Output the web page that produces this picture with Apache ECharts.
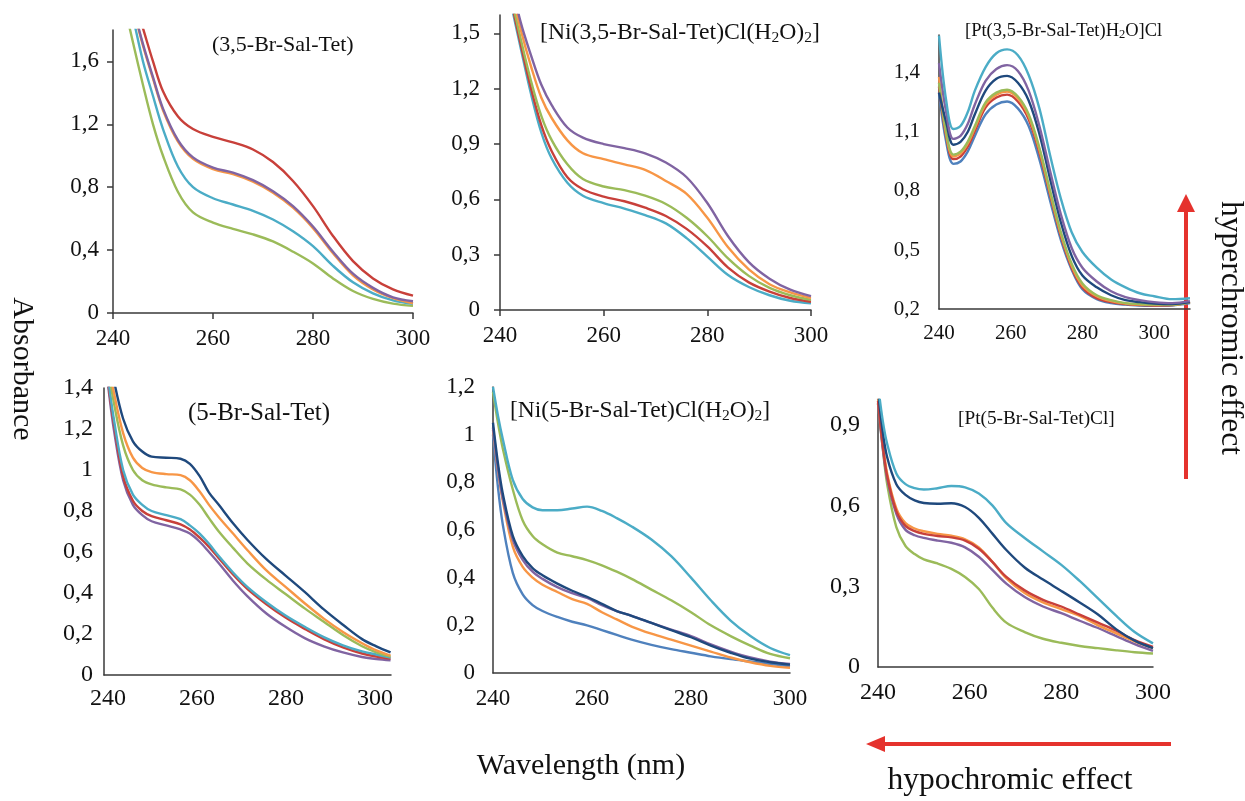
<!DOCTYPE html>
<html><head><meta charset="utf-8">
<script src="https://cdn.jsdelivr.net/npm/echarts@6/dist/echarts.min.js"></script>
<style>html,body{margin:0;padding:0;background:#fff}#c{width:1245px;height:801px}</style>
</head><body><div id="c"></div>
<script>
// ---------- data ----------
const xTickLabels = [240, 260, 280, 300];

// Panel 1: (3,5-Br-Sal-Tet)
const x1 = [240,242,244,246,248,250,253,256,260,264,268,272,276,280,284,288,292,296,300];
const p1Red    = [2.5,2.25,2.02,1.81,1.60,1.41,1.25,1.17,1.12,1.085,1.04,0.96,0.84,0.68,0.49,0.33,0.22,0.15,0.11];
const p1Orange = [2.44,2.19,1.94,1.70,1.49,1.29,1.09,0.98,0.915,0.883,0.835,0.765,0.67,0.54,0.38,0.24,0.15,0.095,0.062];
const p1Purple = [2.45,2.2,1.95,1.71,1.50,1.30,1.10,0.99,0.925,0.893,0.845,0.775,0.68,0.55,0.39,0.25,0.16,0.10,0.075];
const p1Cyan   = [2.4,2.15,1.88,1.60,1.38,1.17,0.93,0.80,0.73,0.69,0.65,0.595,0.52,0.425,0.30,0.195,0.125,0.08,0.058];
const p1Olive  = [2.3,2.0,1.72,1.45,1.20,1.0,0.77,0.64,0.575,0.535,0.50,0.455,0.39,0.315,0.22,0.14,0.09,0.06,0.045];
const p1YTicks = [0, 0.4, 0.8, 1.2, 1.6];

// Panel 2: [Ni(3,5-Br-Sal-Tet)Cl(H2O)2]
const x2 = [240,242,244,246,248,250,253,256,260,264,268,272,276,280,284,288,292,296,300];
const p2Purple = [2.1,1.8,1.56,1.38,1.22,1.11,0.99,0.935,0.90,0.878,0.85,0.80,0.72,0.58,0.40,0.26,0.17,0.11,0.075];
const p2Orange = [2.05,1.76,1.52,1.32,1.15,1.04,0.92,0.85,0.818,0.79,0.76,0.70,0.63,0.50,0.34,0.22,0.14,0.095,0.065];
const p2Olive  = [2.0,1.72,1.47,1.24,1.05,0.92,0.79,0.71,0.67,0.65,0.62,0.575,0.50,0.40,0.28,0.185,0.12,0.08,0.055];
const p2Red    = [1.98,1.70,1.44,1.20,1.0,0.86,0.72,0.655,0.615,0.59,0.555,0.51,0.44,0.345,0.23,0.15,0.10,0.065,0.045];
const p2Cyan   = [1.96,1.68,1.42,1.17,0.96,0.82,0.69,0.62,0.58,0.55,0.515,0.47,0.39,0.29,0.19,0.125,0.08,0.05,0.036];
const p2YTicks = [0, 0.3, 0.6, 0.9, 1.2, 1.5];

// Panel 3: [Pt(3,5-Br-Sal-Tet)H2O]Cl
const x3 = [240,242,244,246,248,250,253,256,259,262,265,268,271,274,277,280,284,288,292,296,300,305,310];
const p3Cyan   = [1.59,1.26,1.115,1.13,1.20,1.31,1.43,1.50,1.52,1.49,1.39,1.22,0.98,0.76,0.59,0.49,0.41,0.35,0.31,0.28,0.265,0.25,0.255];
const p3Purple = [1.45,1.20,1.065,1.08,1.14,1.24,1.36,1.42,1.44,1.41,1.31,1.13,0.90,0.68,0.51,0.41,0.34,0.29,0.26,0.245,0.235,0.23,0.24];
const p3Navy   = [1.30,1.15,1.035,1.05,1.10,1.19,1.31,1.37,1.385,1.35,1.26,1.09,0.86,0.64,0.47,0.37,0.31,0.27,0.245,0.235,0.228,0.225,0.235];
const p3Olive  = [1.35,1.10,0.985,1.0,1.05,1.13,1.25,1.30,1.315,1.28,1.19,1.02,0.80,0.59,0.43,0.33,0.27,0.245,0.23,0.225,0.222,0.222,0.235];
const p3Orange = [1.38,1.09,0.975,0.99,1.04,1.12,1.24,1.29,1.305,1.27,1.18,1.01,0.79,0.58,0.42,0.32,0.265,0.24,0.228,0.222,0.22,0.22,0.235];
const p3Red    = [1.33,1.08,0.962,0.975,1.025,1.105,1.225,1.275,1.29,1.255,1.165,0.995,0.78,0.57,0.41,0.31,0.255,0.235,0.225,0.22,0.218,0.22,0.235];
const p3Blue   = [1.30,1.05,0.938,0.95,1.0,1.08,1.19,1.24,1.255,1.22,1.13,0.96,0.75,0.55,0.40,0.30,0.25,0.23,0.222,0.218,0.216,0.218,0.23];
const p3YTicks = [0.2, 0.5, 0.8, 1.1, 1.4];

// Panel 4: (5-Br-Sal-Tet)
const x4 = [239.2,240.2,241.3,243.4,245.6,247.7,249.8,253.1,256.3,258.4,260.6,262.7,264.9,268.1,271.3,275.6,279.9,284.2,288.5,292.8,297.1,300.3,303.5];
const p4Navy   = [1.75,1.58,1.44,1.25,1.14,1.09,1.065,1.06,1.055,1.03,0.97,0.89,0.83,0.74,0.66,0.565,0.485,0.405,0.32,0.245,0.175,0.14,0.11];
const p4Orange = [1.7,1.52,1.38,1.18,1.06,1.01,0.99,0.98,0.975,0.95,0.895,0.83,0.77,0.69,0.61,0.51,0.43,0.35,0.275,0.21,0.155,0.12,0.095];
const p4Olive  = [1.65,1.48,1.33,1.12,1.0,0.95,0.93,0.915,0.905,0.88,0.83,0.765,0.70,0.62,0.545,0.465,0.395,0.325,0.26,0.195,0.14,0.11,0.09];
const p4Cyan   = [1.62,1.42,1.25,1.0,0.88,0.83,0.80,0.78,0.76,0.73,0.69,0.64,0.58,0.50,0.43,0.355,0.29,0.235,0.185,0.145,0.115,0.1,0.085];
const p4Red    = [1.6,1.40,1.23,0.97,0.85,0.80,0.775,0.755,0.735,0.71,0.67,0.625,0.57,0.49,0.42,0.345,0.28,0.225,0.175,0.135,0.105,0.09,0.08];
const p4Purple = [1.58,1.38,1.2,0.95,0.83,0.78,0.75,0.73,0.71,0.69,0.65,0.60,0.545,0.46,0.385,0.30,0.235,0.18,0.14,0.11,0.088,0.078,0.072];
const p4YTicks = [0, 0.2, 0.4, 0.6, 0.8, 1, 1.2, 1.4];

// Panel 5: [Ni(5-Br-Sal-Tet)Cl(H2O)2]
const x5 = [240,241,242,244,246,248,250,253,256,259,262,265,268,272,276,280,284,288,292,296,300];
const p5Cyan   = [1.2,1.08,0.98,0.81,0.73,0.695,0.683,0.683,0.69,0.698,0.68,0.65,0.615,0.56,0.49,0.40,0.305,0.22,0.155,0.105,0.075];
const p5Olive  = [1.18,1.05,0.94,0.77,0.64,0.575,0.54,0.505,0.49,0.474,0.452,0.425,0.395,0.35,0.305,0.255,0.20,0.155,0.115,0.08,0.062];
const p5Purple = [1.03,0.86,0.73,0.56,0.475,0.425,0.395,0.36,0.335,0.315,0.285,0.26,0.24,0.21,0.182,0.155,0.12,0.09,0.065,0.048,0.038];
const p5Navy   = [1.05,0.88,0.75,0.575,0.49,0.44,0.41,0.375,0.345,0.32,0.29,0.26,0.24,0.21,0.18,0.15,0.115,0.085,0.06,0.045,0.035];
const p5Orange = [1.02,0.85,0.72,0.53,0.445,0.40,0.37,0.34,0.31,0.29,0.255,0.225,0.195,0.165,0.14,0.115,0.09,0.065,0.045,0.03,0.022];
const p5Blue   = [1.0,0.78,0.62,0.42,0.33,0.285,0.26,0.235,0.215,0.20,0.18,0.16,0.14,0.118,0.10,0.085,0.07,0.058,0.048,0.038,0.028];
const p5YTicks = [0, 0.2, 0.4, 0.6, 0.8, 1, 1.2];

// Panel 6: [Pt(5-Br-Sal-Tet)Cl]
const x6 = [240,241,242,244,246,248,250,253,256,259,262,265,268,272,276,280,284,288,292,296,300];
const p6Cyan   = [1.05,0.92,0.83,0.72,0.68,0.665,0.66,0.665,0.673,0.668,0.645,0.60,0.535,0.48,0.43,0.38,0.32,0.255,0.19,0.13,0.088];
const p6Navy   = [1.03,0.88,0.78,0.68,0.64,0.62,0.61,0.607,0.609,0.595,0.555,0.495,0.435,0.37,0.325,0.283,0.24,0.195,0.14,0.098,0.07];
const p6Orange = [1.0,0.84,0.72,0.59,0.535,0.515,0.505,0.495,0.488,0.475,0.445,0.39,0.33,0.275,0.24,0.215,0.19,0.155,0.125,0.095,0.07];
const p6Purple = [0.98,0.82,0.70,0.57,0.51,0.49,0.48,0.47,0.462,0.445,0.41,0.36,0.31,0.26,0.225,0.20,0.172,0.145,0.115,0.085,0.06];
const p6Red    = [0.99,0.83,0.71,0.58,0.525,0.505,0.495,0.487,0.482,0.47,0.44,0.39,0.335,0.285,0.25,0.225,0.195,0.165,0.135,0.10,0.075];
const p6Olive  = [0.98,0.82,0.68,0.52,0.45,0.42,0.40,0.385,0.365,0.335,0.29,0.22,0.165,0.13,0.105,0.09,0.078,0.07,0.062,0.055,0.05];
const p6YTicks = [0, 0.3, 0.6, 0.9];

// ---------- styling ----------
const C = {red:'#c8403a', orange:'#f79646', purple:'#8064a2', cyan:'#4bacc6', olive:'#9bbb59', blue:'#4f81bd', navy:'#1f497d'};
const FONT = '"Liberation Serif", "Times New Roman", serif';

const panels = [
  {rect:{left:113,top:30,width:300,height:283}, xmin:240, xmax:300, ymin:0, ymax:1.8, yt:p1YTicks, ticks:true, fs:23, ym:14, xm:14,
   x:x1, curves:[[p1Olive,C.olive],[p1Cyan,C.cyan],[p1Orange,C.orange],[p1Purple,C.purple],[p1Red,C.red]]},
  {rect:{left:500,top:15,width:311,height:295}, xmin:240, xmax:300, ymin:0, ymax:1.6, yt:p2YTicks, ticks:true, fs:23, ym:20, xm:14,
   x:x2, curves:[[p2Cyan,C.cyan],[p2Red,C.red],[p2Olive,C.olive],[p2Orange,C.orange],[p2Purple,C.purple]]},
  {rect:{left:939,top:35,width:251,height:274}, xmin:240, xmax:310, ymin:0.2, ymax:1.593, yt:p3YTicks, ticks:false, fs:21, ym:19, xm:14,
   x:x3, curves:[[p3Blue,C.blue],[p3Red,C.red],[p3Orange,C.orange],[p3Olive,C.olive],[p3Navy,C.navy],[p3Purple,C.purple],[p3Cyan,C.cyan]]},
  {rect:{left:104,top:388,width:287,height:287}, xmin:239.1, xmax:303.6, ymin:0, ymax:1.4, yt:p4YTicks, ticks:false, fs:24, ym:11, xm:12,
   x:x4, curves:[[p4Purple,C.purple],[p4Red,C.red],[p4Cyan,C.cyan],[p4Olive,C.olive],[p4Orange,C.orange],[p4Navy,C.navy]]},
  {rect:{left:493,top:387,width:297,height:286}, xmin:240, xmax:300, ymin:0, ymax:1.2, yt:p5YTicks, ticks:false, fs:23, ym:18, xm:14,
   x:x5, curves:[[p5Blue,C.blue],[p5Orange,C.orange],[p5Purple,C.purple],[p5Navy,C.navy],[p5Olive,C.olive],[p5Cyan,C.cyan]]},
  {rect:{left:878,top:400,width:275,height:267}, xmin:240, xmax:300, ymin:0, ymax:0.993, yt:p6YTicks, ticks:false, fs:24, ym:18, xm:14,
   x:x6, curves:[[p6Olive,C.olive],[p6Purple,C.purple],[p6Orange,C.orange],[p6Red,C.red],[p6Navy,C.navy],[p6Cyan,C.cyan]]}
];

const grid = [], xAxis = [], yAxis = [], series = [];
const axisLine = {show:true, lineStyle:{color:'#3a3a3a', width:1.5}};
panels.forEach((p, i) => {
  grid.push(Object.assign({containLabel:false}, p.rect));
  xAxis.push({type:'value', gridIndex:i, min:p.xmin, max:p.xmax,
    axisLine, splitLine:{show:false},
    axisTick:{show:p.ticks, length:6, customValues:xTickLabels, lineStyle:{color:'#3a3a3a', width:1.5}},
    axisLabel:{customValues:xTickLabels, margin:p.xm, fontFamily:FONT, fontSize:p.fs, color:'#111'}});
  yAxis.push({type:'value', gridIndex:i, min:p.ymin, max:p.ymax,
    axisLine, splitLine:{show:false},
    axisTick:{show:p.ticks, length:6, customValues:p.yt, lineStyle:{color:'#3a3a3a', width:1.5}},
    axisLabel:{customValues:p.yt, margin:p.ym, fontFamily:FONT, fontSize:p.fs, color:'#111',
      formatter: v => String(v).replace('.', ',')}});
  p.curves.forEach(([ys, col]) => {
    series.push({type:'line', xAxisIndex:i, yAxisIndex:i, showSymbol:false, smooth:0.35,
      data: p.x.map((xv, k) => [xv, ys[k]]), clip:true,
      lineStyle:{color:col, width:2.4}, itemStyle:{color:col}, silent:true, animation:false});
  });
});

function txt(x, y, text, size, opts) {
  return Object.assign({type:'text', x, y, style:{text, fontFamily:FONT, fontSize:size, fill:'#111',
    textAlign:'left', textVerticalAlign:'middle'}}, opts || {});
}
function richTxt(x, y, str, size, subSize) {
  return {type:'text', x, y, style:{text:str, fontFamily:FONT, fontSize:size, fill:'#111',
    textAlign:'left', textVerticalAlign:'middle',
    rich:{a:{fontFamily:FONT, fontSize:size, fill:'#111'},
          s:{fontFamily:FONT, fontSize:subSize, fill:'#111', padding:[Math.round(subSize*0.55),0,0,0]}}}};
}
const RED = '#e5322d';
const graphic = [
  txt(212, 45, '(3,5-Br-Sal-Tet)', 22),
  richTxt(540, 33, '{a|[Ni(3,5-Br-Sal-Tet)Cl(H}{s|2}{a|O)}{s|2}{a|]}', 23.7, 15.5),
  richTxt(965, 31, '{a|[Pt(3,5-Br-Sal-Tet)H}{s|2}{a|O]Cl}', 18.5, 12.5),
  txt(188, 413, '(5-Br-Sal-Tet)', 25),
  richTxt(510, 411, '{a|[Ni(5-Br-Sal-Tet)Cl(H}{s|2}{a|O)}{s|2}{a|]}', 23.5, 15.5),
  txt(958, 419, '[Pt(5-Br-Sal-Tet)Cl]', 19.3),
  {type:'text', x:22, y:369, rotation:-Math.PI/2, style:{text:'Absorbance', fontFamily:FONT, fontSize:30, fill:'#111', textAlign:'center', textVerticalAlign:'middle'}},
  {type:'text', x:581, y:766, style:{text:'Wavelength (nm)', fontFamily:FONT, fontSize:30, fill:'#111', textAlign:'center', textVerticalAlign:'middle'}},
  {type:'text', x:1010, y:781, style:{text:'hypochromic effect', fontFamily:FONT, fontSize:31.5, fill:'#111', textAlign:'center', textVerticalAlign:'middle'}},
  {type:'text', x:1230, y:328, rotation:-Math.PI/2, style:{text:'hyperchromic effect', fontFamily:FONT, fontSize:31.5, fill:'#111', textAlign:'center', textVerticalAlign:'middle'}},
  {type:'line', shape:{x1:1186, y1:479, x2:1186, y2:208}, style:{stroke:RED, lineWidth:4}},
  {type:'polygon', shape:{points:[[1177,212],[1195,212],[1186,194]]}, style:{fill:RED}},
  {type:'line', shape:{x1:1171, y1:744, x2:882, y2:744}, style:{stroke:RED, lineWidth:4}},
  {type:'polygon', shape:{points:[[885,736],[885,752],[866,744]]}, style:{fill:RED}}
];

const chart = echarts.init(document.getElementById('c'), null, {renderer:'canvas'});
chart.setOption({animation:false, backgroundColor:'#fff', grid, xAxis, yAxis, series, graphic});
</script></body></html>
